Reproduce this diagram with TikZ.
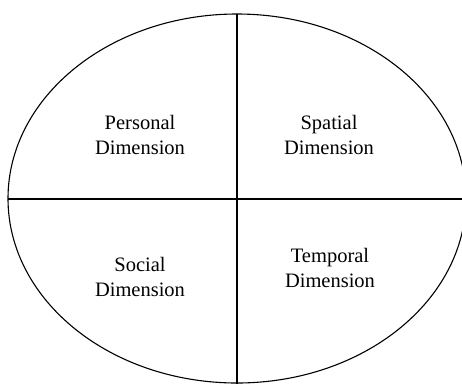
\documentclass[tikz,border=0pt]{standalone}
\usepackage{fontspec}
\setmainfont{Liberation Serif}
\begin{document}
\begin{tikzpicture}[x=1pt,y=-1pt,line width=1.1pt]
    \tikzset{dimlabel/.style={align=center,font=\fontsize{20.5}{25}\selectfont}}
    \useasboundingbox (0,0) rectangle (462,383);

    \coordinate (C) at (237,198.5);
    \coordinate (T) at (237,14);
    \coordinate (B) at (237,385);
    \coordinate (L) at (8,199);
    \coordinate (R) at (464,199);

    \draw (C) ellipse [x radius=229, y radius=184.5];
    \draw (T) -- (B);
    \draw (L) -- (R);

    \node[dimlabel] (personal) at (140,135) {Personal\\Dimension};
    \node[dimlabel] (spatial) at (329,135) {Spatial\\Dimension};
    \node[dimlabel] (social) at (140,277) {Social\\Dimension};
    \node[dimlabel] (temporal) at (330,268) {Temporal\\Dimension};

\end{tikzpicture}
\end{document}
